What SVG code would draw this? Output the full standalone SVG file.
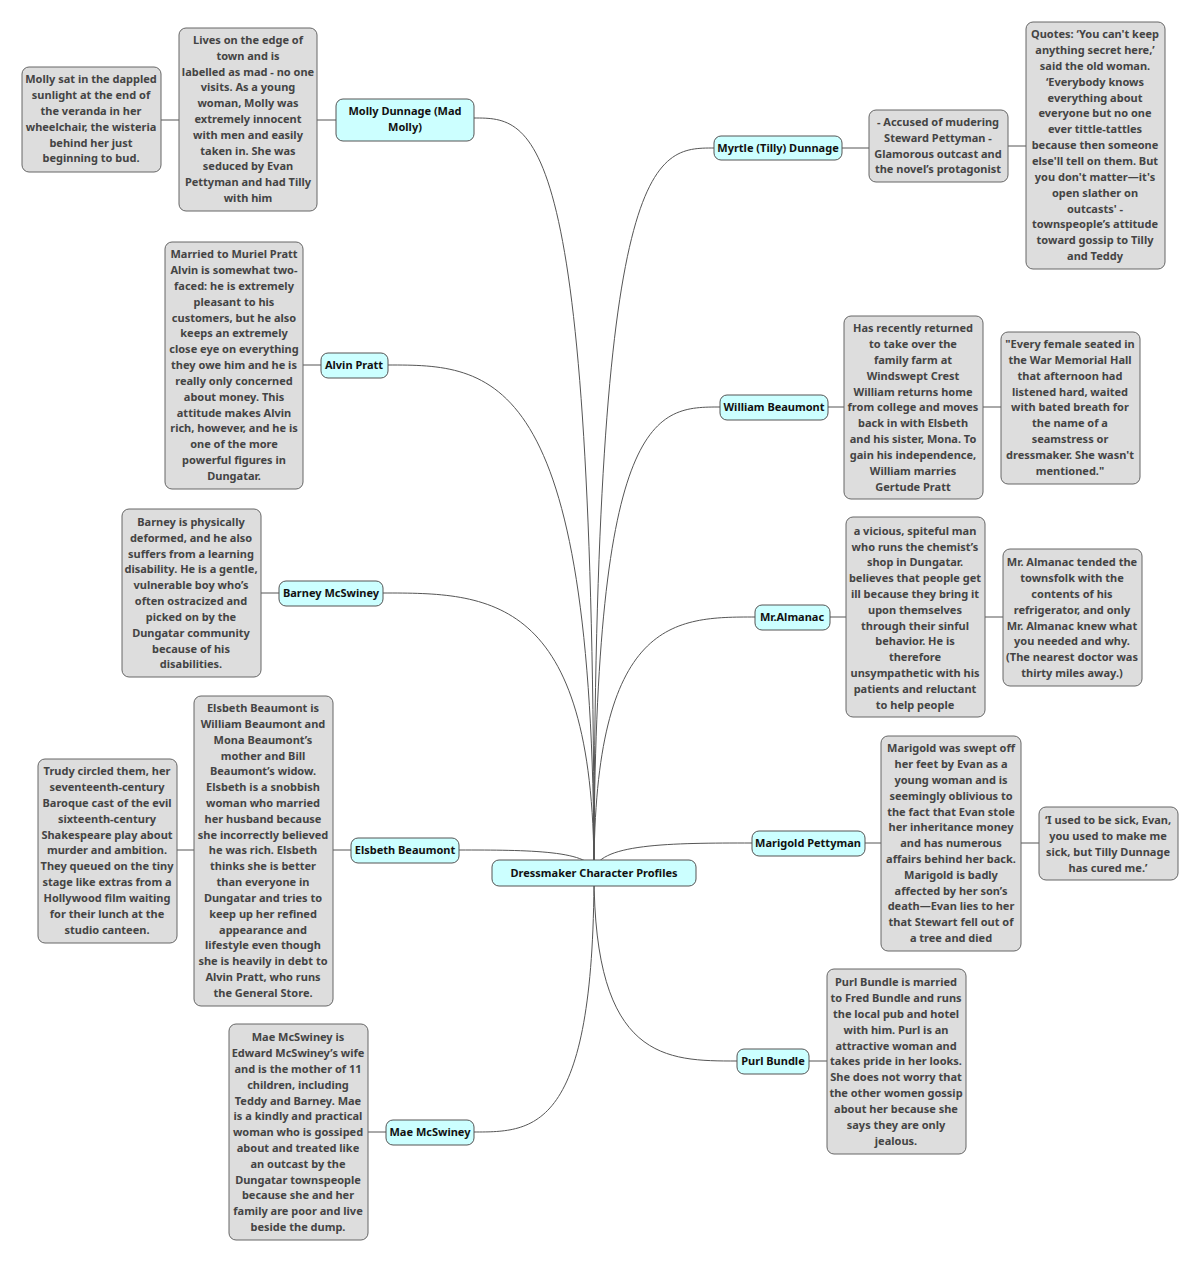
<svg xmlns="http://www.w3.org/2000/svg" width="1200" height="1263" viewBox="0 0 1200 1263">
<style>
text{font-family:"Noto Sans","Open Sans",sans-serif;font-size:11px;font-weight:bold;text-anchor:middle}
.n rect{fill:#ccffff;stroke:#555;stroke-width:1}
.n text{fill:#111}
.d rect{fill:#dddddd;stroke:#666;stroke-width:1}
.d text{fill:#444}
#connectors path{fill:none;stroke:#555;stroke-width:1}
</style>
<rect width="1200" height="1263" fill="#fff"/>
<g id="connectors">
<path d="M594,873 C594,118 534,118 474,118"/>
<path d="M594,873 C594,148 654,148 714,148"/>
<path d="M594,873 C594,365 491,365 388,365"/>
<path d="M594,873 C594,407 657,407 720,407"/>
<path d="M594,873 C594,593 488,593 383,593"/>
<path d="M594,873 C594,617 675,617 755,617"/>
<path d="M594,873 C594,843 673,843 752,843"/>
<path d="M594,873 C594,850 527,850 459,850"/>
<path d="M594,873 C594,1061 666,1061 737,1061"/>
<path d="M594,873 C594,1132 534,1132 474,1132"/>
<path d="M336,120 H317 M179,120 H161"/>
<path d="M842,148 H869 M1008,146 H1026"/>
<path d="M321,365 H303"/>
<path d="M828,407 H844 M983,407 H1001"/>
<path d="M279,593 H261"/>
<path d="M830,617 H846 M985,617 H1003"/>
<path d="M865,843 H881 M1021,843 H1039"/>
<path d="M351,850 H333 M194,850 H177"/>
<path d="M809,1061 H827"/>
<path d="M386,1132 H368"/>
</g>
<g id="root" class="n"><rect x="492" y="860" width="204" height="26" rx="7"/><text x="594" y="877">Dressmaker Character Profiles</text></g>
<g id="molly" class="n"><rect x="336" y="99" width="138" height="42" rx="7"/><text x="405" y="115">Molly Dunnage (Mad</text><text x="405" y="131">Molly)</text></g>
<g id="myrtle" class="n"><rect x="714" y="136" width="128" height="24" rx="7"/><text x="778" y="152">Myrtle (Tilly) Dunnage</text></g>
<g id="alvin" class="n"><rect x="321" y="353" width="67" height="25" rx="7"/><text x="354" y="369">Alvin Pratt</text></g>
<g id="william" class="n"><rect x="720" y="395" width="108" height="25" rx="7"/><text x="774" y="411">William Beaumont</text></g>
<g id="barney" class="n"><rect x="279" y="581" width="104" height="25" rx="7"/><text x="331" y="597">Barney McSwiney</text></g>
<g id="almanac" class="n"><rect x="755" y="605" width="75" height="25" rx="7"/><text x="792" y="621">Mr.Almanac</text></g>
<g id="marigold" class="n"><rect x="752" y="831" width="113" height="25" rx="7"/><text x="808" y="847">Marigold Pettyman</text></g>
<g id="elsbeth" class="n"><rect x="351" y="838" width="108" height="25" rx="7"/><text x="405" y="854">Elsbeth Beaumont</text></g>
<g id="purl" class="n"><rect x="737" y="1049" width="72" height="25" rx="7"/><text x="773" y="1065">Purl Bundle</text></g>
<g id="mae" class="n"><rect x="386" y="1120" width="88" height="25" rx="7"/><text x="430" y="1136">Mae McSwiney</text></g>

<g id="molly-desc" class="d"><rect x="179" y="28" width="138" height="183" rx="7"/>
<text x="248" y="44">Lives on the edge of</text><text x="248" y="60">town and is</text><text x="248" y="76">labelled as mad - no one</text><text x="248" y="91">visits. As a young</text><text x="248" y="107">woman, Molly was</text><text x="248" y="123">extremely innocent</text><text x="248" y="139">with men and easily</text><text x="248" y="155">taken in. She was</text><text x="248" y="170">seduced by Evan</text><text x="248" y="186">Pettyman and had Tilly</text><text x="248" y="202">with him</text></g>
<g id="molly-quote" class="d"><rect x="22" y="67" width="139" height="105" rx="7"/>
<text x="91" y="83">Molly sat in the dappled</text><text x="91" y="99">sunlight at the end of</text><text x="91" y="115">the veranda in her</text><text x="91" y="131">wheelchair, the wisteria</text><text x="91" y="147">behind her just</text><text x="91" y="162">beginning to bud.</text></g>
<g id="myrtle-desc" class="d"><rect x="869" y="110" width="139" height="72" rx="7"/>
<text x="938" y="126">- Accused of mudering</text><text x="938" y="142">Steward Pettyman -</text><text x="938" y="158">Glamorous outcast and</text><text x="938" y="173">the novel’s protagonist</text></g>
<g id="myrtle-quote" class="d"><rect x="1026" y="22" width="139" height="247" rx="7"/>
<text x="1095" y="38">Quotes: ‘You can't keep</text><text x="1095" y="54">anything secret here,’</text><text x="1095" y="70">said the old woman.</text><text x="1095" y="86">‘Everybody knows</text><text x="1095" y="102">everything about</text><text x="1095" y="117">everyone but no one</text><text x="1095" y="133">ever tittle-tattles</text><text x="1095" y="149">because then someone</text><text x="1095" y="165">else'll tell on them. But</text><text x="1095" y="181">you don't matter—it's</text><text x="1095" y="197">open slather on</text><text x="1095" y="213">outcasts' -</text><text x="1095" y="228">townspeople’s attitude</text><text x="1095" y="244">toward gossip to Tilly</text><text x="1095" y="260">and Teddy</text></g>
<g id="alvin-desc" class="d"><rect x="165" y="242" width="138" height="247" rx="7"/>
<text x="234" y="258">Married to Muriel Pratt</text><text x="234" y="274">Alvin is somewhat two-</text><text x="234" y="290">faced: he is extremely</text><text x="234" y="306">pleasant to his</text><text x="234" y="322">customers, but he also</text><text x="234" y="337">keeps an extremely</text><text x="234" y="353">close eye on everything</text><text x="234" y="369">they owe him and he is</text><text x="234" y="385">really only concerned</text><text x="234" y="401">about money. This</text><text x="234" y="417">attitude makes Alvin</text><text x="234" y="432">rich, however, and he is</text><text x="234" y="448">one of the more</text><text x="234" y="464">powerful figures in</text><text x="234" y="480">Dungatar.</text></g>
<g id="william-desc" class="d"><rect x="844" y="316" width="139" height="183" rx="7"/>
<text x="913" y="332">Has recently returned</text><text x="913" y="348">to take over the</text><text x="913" y="364">family farm at</text><text x="913" y="380">Windswept Crest</text><text x="913" y="396">William returns home</text><text x="913" y="411">from college and moves</text><text x="913" y="427">back in with Elsbeth</text><text x="913" y="443">and his sister, Mona. To</text><text x="913" y="459">gain his independence,</text><text x="913" y="475">William marries</text><text x="913" y="491">Gertude Pratt</text></g>
<g id="william-quote" class="d"><rect x="1001" y="332" width="139" height="152" rx="7"/>
<text x="1070" y="348">"Every female seated in</text><text x="1070" y="364">the War Memorial Hall</text><text x="1070" y="380">that afternoon had</text><text x="1070" y="396">listened hard, waited</text><text x="1070" y="411">with bated breath for</text><text x="1070" y="427">the name of a</text><text x="1070" y="443">seamstress or</text><text x="1070" y="459">dressmaker. She wasn't</text><text x="1070" y="475">mentioned."</text></g>
<g id="barney-desc" class="d"><rect x="122" y="509" width="139" height="168" rx="7"/>
<text x="191" y="526">Barney is physically</text><text x="191" y="542">deformed, and he also</text><text x="191" y="558">suffers from a learning</text><text x="191" y="573">disability. He is a gentle,</text><text x="191" y="589">vulnerable boy who’s</text><text x="191" y="605">often ostracized and</text><text x="191" y="621">picked on by the</text><text x="191" y="637">Dungatar community</text><text x="191" y="653">because of his</text><text x="191" y="668">disabilities.</text></g>
<g id="almanac-desc" class="d"><rect x="846" y="517" width="139" height="200" rx="7"/>
<text x="915" y="535">a vicious, spiteful man</text><text x="915" y="551">who runs the chemist’s</text><text x="915" y="566">shop in Dungatar.</text><text x="915" y="582">believes that people get</text><text x="915" y="598">ill because they bring it</text><text x="915" y="614">upon themselves</text><text x="915" y="630">through their sinful</text><text x="915" y="645">behavior. He is</text><text x="915" y="661">therefore</text><text x="915" y="677">unsympathetic with his</text><text x="915" y="693">patients and reluctant</text><text x="915" y="709">to help people</text></g>
<g id="almanac-quote" class="d"><rect x="1003" y="549" width="139" height="137" rx="7"/>
<text x="1072" y="566">Mr. Almanac tended the</text><text x="1072" y="582">townsfolk with the</text><text x="1072" y="598">contents of his</text><text x="1072" y="614">refrigerator, and only</text><text x="1072" y="630">Mr. Almanac knew what</text><text x="1072" y="645">you needed and why.</text><text x="1072" y="661">(The nearest doctor was</text><text x="1072" y="677">thirty miles away.)</text></g>
<g id="marigold-desc" class="d"><rect x="881" y="736" width="140" height="215" rx="7"/>
<text x="951" y="752">Marigold was swept off</text><text x="951" y="768">her feet by Evan as a</text><text x="951" y="784">young woman and is</text><text x="951" y="800">seemingly oblivious to</text><text x="951" y="816">the fact that Evan stole</text><text x="951" y="831">her inheritance money</text><text x="951" y="847">and has numerous</text><text x="951" y="863">affairs behind her back.</text><text x="951" y="879">Marigold is badly</text><text x="951" y="895">affected by her son’s</text><text x="951" y="910">death—Evan lies to her</text><text x="951" y="926">that Stewart fell out of</text><text x="951" y="942">a tree and died</text></g>
<g id="marigold-quote" class="d"><rect x="1039" y="807" width="139" height="73" rx="7"/>
<text x="1108" y="824">‘I used to be sick, Evan,</text><text x="1108" y="840">you used to make me</text><text x="1108" y="856">sick, but Tilly Dunnage</text><text x="1108" y="872">has cured me.’</text></g>
<g id="elsbeth-desc" class="d"><rect x="194" y="696" width="139" height="310" rx="7"/>
<text x="263" y="712">Elsbeth Beaumont is</text><text x="263" y="728">William Beaumont and</text><text x="263" y="744">Mona Beaumont’s</text><text x="263" y="760">mother and Bill</text><text x="263" y="775">Beaumont’s widow.</text><text x="263" y="791">Elsbeth is a snobbish</text><text x="263" y="807">woman who married</text><text x="263" y="823">her husband because</text><text x="263" y="839">she incorrectly believed</text><text x="263" y="854">he was rich. Elsbeth</text><text x="263" y="870">thinks she is better</text><text x="263" y="886">than everyone in</text><text x="263" y="902">Dungatar and tries to</text><text x="263" y="918">keep up her refined</text><text x="263" y="934">appearance and</text><text x="263" y="949">lifestyle even though</text><text x="263" y="965">she is heavily in debt to</text><text x="263" y="981">Alvin Pratt, who runs</text><text x="263" y="997">the General Store.</text></g>
<g id="elsbeth-quote" class="d"><rect x="38" y="759" width="139" height="184" rx="7"/>
<text x="107" y="775">Trudy circled them, her</text><text x="107" y="791">seventeenth-century</text><text x="107" y="807">Baroque cast of the evil</text><text x="107" y="823">sixteenth-century</text><text x="107" y="839">Shakespeare play about</text><text x="107" y="854">murder and ambition.</text><text x="107" y="870">They queued on the tiny</text><text x="107" y="886">stage like extras from a</text><text x="107" y="902">Hollywood film waiting</text><text x="107" y="918">for their lunch at the</text><text x="107" y="934">studio canteen.</text></g>
<g id="purl-desc" class="d"><rect x="827" y="969" width="139" height="185" rx="7"/>
<text x="896" y="986">Purl Bundle is married</text><text x="896" y="1002">to Fred Bundle and runs</text><text x="896" y="1018">the local pub and hotel</text><text x="896" y="1034">with him. Purl is an</text><text x="896" y="1050">attractive woman and</text><text x="896" y="1065">takes pride in her looks.</text><text x="896" y="1081">She does not worry that</text><text x="896" y="1097">the other women gossip</text><text x="896" y="1113">about her because she</text><text x="896" y="1129">says they are only</text><text x="896" y="1145">jealous.</text></g>
<g id="mae-desc" class="d"><rect x="229" y="1024" width="139" height="216" rx="7"/>
<text x="298" y="1041">Mae McSwiney is</text><text x="298" y="1057">Edward McSwiney’s wife</text><text x="298" y="1073">and is the mother of 11</text><text x="298" y="1089">children, including</text><text x="298" y="1105">Teddy and Barney. Mae</text><text x="298" y="1120">is a kindly and practical</text><text x="298" y="1136">woman who is gossiped</text><text x="298" y="1152">about and treated like</text><text x="298" y="1168">an outcast by the</text><text x="298" y="1184">Dungatar townspeople</text><text x="298" y="1199">because she and her</text><text x="298" y="1215">family are poor and live</text><text x="298" y="1231">beside the dump.</text></g>
</svg>
